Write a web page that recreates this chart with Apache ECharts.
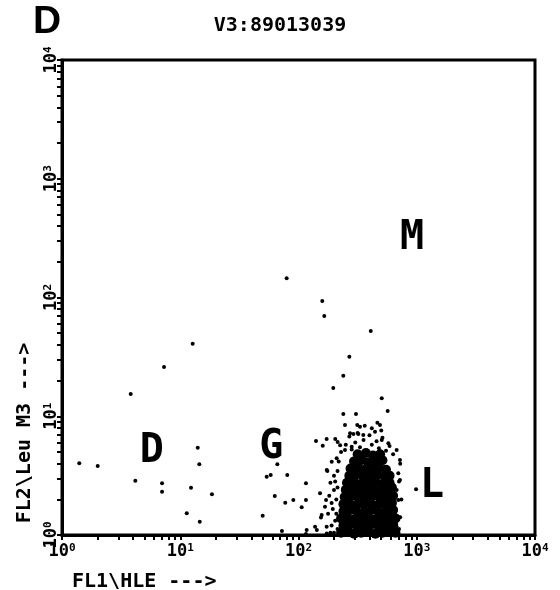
<!DOCTYPE html>
<html>
<head>
<meta charset="utf-8">
<script src="https://cdn.jsdelivr.net/npm/echarts@6/dist/echarts.min.js"></script>
<style>html,body{margin:0;padding:0;background:#fff;}#c{width:560px;height:590px;}</style>
</head>
<body>
<div id="c"></div>
<script>
// Values are log10 of the fluorescence intensity: [log10 FL1, log10 FL2]
const decadeExponents = ['0', '1', '2', '3', '4'];
const tickMantissas = [1, 2, 3, 4, 5, 6, 7, 8, 9];

// dense lymphocyte core
const coreEvents = [
  [2.36,0.02],[2.42,0.03],[2.47,0.01],[2.53,0.02],[2.59,0.03],[2.65,0.01],[2.71,0.02],[2.77,0.03],[2.82,0.02],
  [2.38,0.08],[2.44,0.09],[2.50,0.07],[2.56,0.08],[2.62,0.09],[2.68,0.07],[2.74,0.08],[2.80,0.09],
  [2.36,0.14],[2.41,0.15],[2.47,0.13],[2.53,0.14],[2.59,0.15],[2.65,0.13],[2.71,0.14],[2.77,0.15],[2.82,0.14],
  [2.38,0.20],[2.44,0.21],[2.50,0.19],[2.56,0.20],[2.62,0.21],[2.68,0.19],[2.74,0.20],[2.80,0.21],
  [2.38,0.26],[2.43,0.27],[2.49,0.25],[2.55,0.26],[2.61,0.27],[2.67,0.25],[2.73,0.26],[2.79,0.27],
  [2.39,0.32],[2.45,0.33],[2.51,0.31],[2.57,0.32],[2.63,0.33],[2.69,0.31],[2.75,0.32],[2.80,0.33],
  [2.40,0.38],[2.46,0.39],[2.52,0.37],[2.58,0.38],[2.64,0.39],[2.70,0.37],[2.76,0.38],[2.79,0.40],
  [2.41,0.44],[2.47,0.45],[2.53,0.43],[2.59,0.44],[2.65,0.45],[2.71,0.43],[2.77,0.44],
  [2.43,0.50],[2.49,0.51],[2.55,0.49],[2.61,0.50],[2.67,0.51],[2.73,0.49],[2.77,0.50],
  [2.44,0.56],[2.50,0.57],[2.56,0.55],[2.62,0.56],[2.68,0.57],[2.74,0.55],
  [2.47,0.62],[2.53,0.63],[2.59,0.61],[2.65,0.62],[2.71,0.63],
  [2.50,0.68],[2.57,0.69],[2.63,0.67],[2.69,0.68]
];

// scattered single events
const sparseEvents = [
  [1.900,2.162],[2.201,1.971],[2.218,1.844],[2.611,1.718],[1.105,1.611],[0.863,1.415],[0.581,1.187],
  [2.430,1.501],[2.379,1.341],[2.294,1.238],[2.704,1.151],[2.379,1.019],[2.486,1.019],[2.754,1.044],
  [0.146,0.604],[0.302,0.581],[1.148,0.735],[1.161,0.595],[0.620,0.457],[0.846,0.435],[0.846,0.365],
  [1.091,0.398],[1.268,0.343],[1.055,0.183],[1.165,0.112],
  [1.821,0.595],[1.731,0.491],[1.765,0.505],[1.905,0.505],[2.063,0.435],[1.799,0.328],[1.888,0.272],
  [1.956,0.295],[2.063,0.295],[2.027,0.233],[1.697,0.163],
  [2.148,0.792],[2.238,0.808],[2.311,0.808],[2.205,0.752],[2.244,0.539],[1.860,0.034],[2.063,0.008],
  [2.155,0.042],[2.239,0.012],[2.190,0.147],[2.994,0.385],
  [2.393,0.926],[2.497,0.926],[2.520,0.912],[2.667,0.946],[2.689,0.926],[2.436,0.856],[2.464,0.850],
  [2.506,0.850],[2.548,0.842],[2.647,0.870],
  [2.331,0.783],[2.352,0.755],[2.393,0.716],[2.450,0.744],[2.704,0.800],[2.760,0.772],[2.830,0.716],[2.858,0.632],
  [2.281,0.617],[2.323,0.646],[2.239,0.547],[2.182,0.351],[2.233,0.295],[2.224,0.238],[2.196,0.168],
  [2.140,0.070],[2.238,0.070],[2.069,0.042],
  [2.844,0.520],[2.858,0.463],[2.830,0.379],[2.844,0.295],[2.816,0.185],[2.830,0.070],[2.799,0.017],
  [2.45,0.72],[2.52,0.74],[2.58,0.71],[2.62,0.76],[2.68,0.73],[2.74,0.71],[2.48,0.78],[2.55,0.80],
  [2.66,0.79],[2.71,0.82],[2.60,0.84],[2.50,0.86],[2.43,0.83],[2.40,0.76],[2.77,0.75],[2.80,0.68],
  [2.36,0.70],[2.34,0.62],[2.33,0.54],[2.31,0.45],[2.30,0.38],[2.32,0.30],[2.29,0.22],[2.31,0.12],
  [2.33,0.05],[2.86,0.60],[2.85,0.45],[2.87,0.30],[2.86,0.15],[2.85,0.05],[2.62,0.90],[2.56,0.92],[2.70,0.88],
  [2.27,0.44],[2.30,0.50],[2.26,0.33],[2.28,0.27],[2.25,0.18],[2.28,0.08],[2.30,0.02],[2.32,0.18],
  [2.33,0.40],[2.27,0.02]
];

// population labels [log10 FL1, log10 FL2, name]
const populations = [
  [0.76, 0.70, 'D'],
  [1.77, 0.74, 'G'],
  [2.96, 2.50, 'M'],
  [3.13, 0.41, 'L']
];

const titleText = 'V3:89013039';
const panelLetter = 'D';
const xName = 'FL1\\HLE --->';
const yName = 'FL2\\Leu M3 --->';

const tickValues = [];
for (let d = 0; d < 4; d++) tickMantissas.forEach(m => tickValues.push(d + Math.log10(m)));
tickValues.push(4);

const mono = 'DejaVu Sans Mono';
const labelRich = {
  b: { fontFamily: mono, fontWeight: 'bold', fontSize: 17, color: '#000' },
  s: { fontFamily: mono, fontWeight: 'bold', fontSize: 11, color: '#000', verticalAlign: 'top' }
};
const fmt = v => '{b|10}{s|' + decadeExponents[Math.round(v)] + '}';

const chart = echarts.init(document.getElementById('c'), null, { renderer: 'canvas' });
chart.setOption({
  animation: false,
  backgroundColor: '#fff',
  title: {
    text: titleText, left: 'center', top: 11,
    textStyle: { fontFamily: mono, fontWeight: 'bold', fontSize: 20, color: '#000' }
  },
  grid: { left: 62, top: 60, right: 25, bottom: 55, show: true, borderColor: '#000', borderWidth: 3 },
  xAxis: {
    type: 'value', min: 0, max: 4, interval: 1,
    axisLine: { lineStyle: { color: '#000', width: 3 } },
    axisTick: { show: true, length: 5, customValues: tickValues, lineStyle: { color: '#000', width: 2 } },
    axisLabel: { margin: 8, formatter: fmt, rich: labelRich },
    splitLine: { show: false }
  },
  yAxis: {
    type: 'value', min: 0, max: 4, interval: 1,
    axisLine: { lineStyle: { color: '#000', width: 3 } },
    axisTick: { show: true, length: 5, customValues: tickValues, lineStyle: { color: '#000', width: 2 } },
    axisLabel: { margin: 2, rotate: 90, formatter: fmt, rich: labelRich },
    splitLine: { show: false }
  },
  graphic: [
    { type: 'text', left: 33, top: 3, style: { text: panelLetter, fontFamily: 'Liberation Sans', fontWeight: 'bold', fontSize: 39, fill: '#000' } },
    { type: 'text', left: 72, top: 572, style: { text: xName, fontFamily: mono, fontWeight: 'bold', fontSize: 20, fill: '#000' } },
    { type: 'text', x: 25, y: 433, rotation: Math.PI / 2, style: { text: yName, fontFamily: mono, fontWeight: 'bold', fontSize: 20, fill: '#000', align: 'center', verticalAlign: 'middle' } }
  ],
  series: [
    { type: 'scatter', data: coreEvents, symbol: 'circle', symbolSize: 10, itemStyle: { color: '#000', opacity: 1, borderWidth: 0 }, silent: true },
    { type: 'scatter', data: sparseEvents, symbol: 'circle', symbolSize: 4, itemStyle: { color: '#000', opacity: 1, borderWidth: 0 }, silent: true },
    {
      type: 'scatter', data: populations, symbolSize: 1, itemStyle: { color: 'rgba(0,0,0,0)', opacity: 1 },
      label: { show: true, position: 'inside', formatter: p => p.data[2], fontFamily: mono, fontWeight: 'bold', fontSize: 40, color: '#000' },
      silent: true
    }
  ]
});
</script>
</body>
</html>
